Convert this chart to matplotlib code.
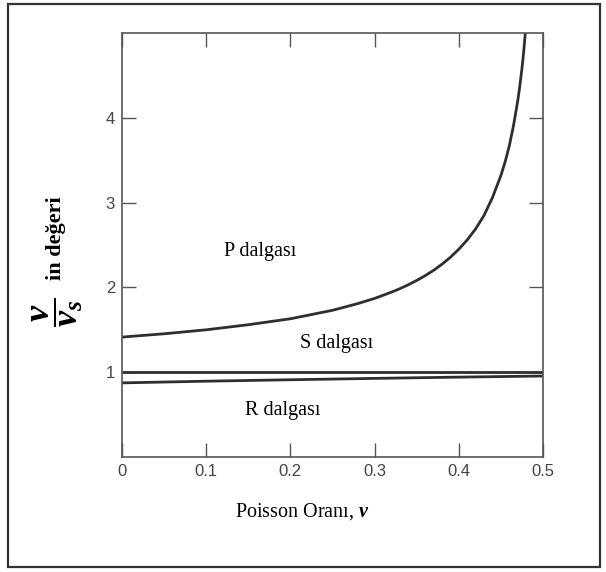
import matplotlib.pyplot as plt
from matplotlib.patches import Rectangle

# Poisson ratio samples and velocity ratios v / v_s read for each wave
nu_p = [0.0, 0.05, 0.10, 0.15, 0.20, 0.25, 0.26, 0.28, 0.30, 0.32, 0.33,
        0.34, 0.35, 0.36, 0.37, 0.38, 0.39, 0.40, 0.41, 0.42, 0.43, 0.44,
        0.45, 0.455, 0.46, 0.465, 0.47, 0.472, 0.475, 0.477, 0.479]
ratio_p = [1.414, 1.453, 1.50, 1.56, 1.63, 1.73, 1.756, 1.809, 1.87, 1.944,
           1.985, 2.031, 2.082, 2.138, 2.201, 2.273, 2.355, 2.45, 2.56,
           2.69, 2.85, 3.06, 3.32, 3.48, 3.67, 3.91, 4.20, 4.34, 4.58,
           4.77, 5.0]

nu_s = [0.0, 0.5]
ratio_s = [1.0, 1.0]

nu_r = [0.0, 0.1, 0.2, 0.3, 0.4, 0.5]
ratio_r = [0.874, 0.894, 0.911, 0.927, 0.942, 0.955]

x_ticks = [0, 0.1, 0.2, 0.3, 0.4, 0.5]
x_tick_labels = ['0', '0.1', '0.2', '0.3', '0.4', '0.5']
y_ticks = [1, 2, 3, 4]

plt.rcParams['mathtext.fontset'] = 'custom'
plt.rcParams['mathtext.rm'] = 'Liberation Serif'
plt.rcParams['mathtext.bf'] = 'Liberation Serif:bold:italic'

fig = plt.figure(figsize=(6.06, 5.72), dpi=100)
ax = fig.add_axes([122 / 606, 1 - 457 / 572, 421 / 606, 424 / 572])

line_kw = dict(color='#2e2e2e', lw=2.0, solid_capstyle='butt',
               solid_joinstyle='round')
ax.plot(nu_p, ratio_p, **line_kw)
ax.plot(nu_s, ratio_s, **line_kw)
ax.plot(nu_r, ratio_r, **line_kw)

ax.set_xlim(0, 0.5)
ax.set_ylim(0, 5)

ax.set_xticks(x_ticks)
ax.set_xticklabels(x_tick_labels)
ax.set_yticks(y_ticks)
ax.tick_params(direction='in', length=10, width=1.0, color='#555555',
               labelcolor='#444444', labelsize=12, pad=5,
               top=True, right=True)
for lbl in ax.get_xticklabels() + ax.get_yticklabels():
    lbl.set_family('Liberation Sans')

for side in ax.spines.values():
    side.set_color('#555555')
    side.set_linewidth(1.2)

# wave labels
txt_kw = dict(family='Liberation Serif', fontsize=14.5, color='black',
              ha='center', va='center')
ax.text(0.164, 2.42, 'P dalgası', **txt_kw)
ax.text(0.255, 1.34, 'S dalgası', **txt_kw)
ax.text(0.191, 0.55, 'R dalgası', **txt_kw)

fig.text(302 / 606, 1 - 512 / 572, 'Poisson Oranı, $\\mathbf{v}$',
         family='Liberation Serif', fontsize=14.5, ha='center', va='center')

# y label: fraction plus text, rotated
fig.text(58 / 606, 1 - 312 / 572,
         '$\\dfrac{\\mathbf{v}}{\\mathbf{v_s}}$',
         fontsize=26, rotation=90, ha='center', va='center')
fig.text(56 / 606, 1 - 238 / 572, 'in değeri',
         family='Liberation Serif', fontsize=16, fontweight='bold',
         rotation=90, ha='center', va='center')

# outer frame
fig.patches.append(Rectangle((8 / 606, 5 / 572), 592 / 606, 563 / 572,
                             transform=fig.transFigure, fill=False,
                             edgecolor='#333333', lw=1.6))

fig.savefig('out.png', dpi=100)
